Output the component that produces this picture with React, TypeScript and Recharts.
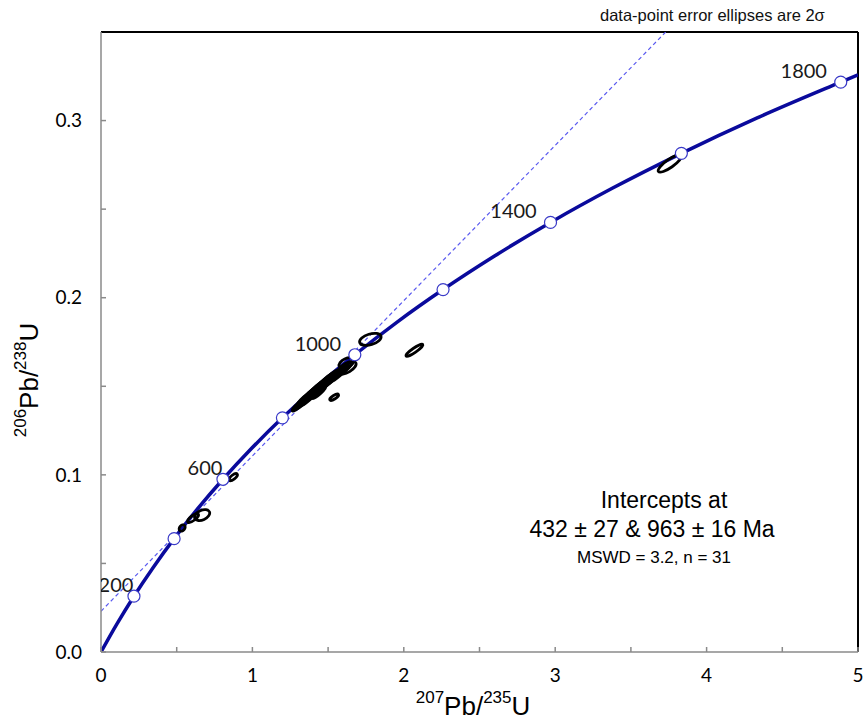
import React from 'react';
import { ComposedChart, Line, Scatter, XAxis, YAxis, ReferenceLine } from 'recharts';

const CHART_W = 866;
const CHART_H = 724;
const MARGIN = { top: 32, right: 8, bottom: 32, left: 41 };
const Y_AXIS_W = 60;
const X_AXIS_H = 40;
const X_MAX = 5;
const Y_MAX = 0.35;
const PLOT_W = CHART_W - MARGIN.left - Y_AXIS_W - MARGIN.right;
const PLOT_H = CHART_H - MARGIN.top - MARGIN.bottom - X_AXIS_H;
const PX_X = PLOT_W / X_MAX;
const PX_Y = PLOT_H / Y_MAX;

// concordia curve, 207Pb/235U vs 206Pb/238U
const concordiaCurve = [
  { x: 0, y: 0 },
  { x: 0.1035, y: 0.0156 },
  { x: 0.2177, y: 0.0315 },
  { x: 0.3437, y: 0.0476 },
  { x: 0.4828, y: 0.064 },
  { x: 0.6361, y: 0.0806 },
  { x: 0.8054, y: 0.0975 },
  { x: 0.9921, y: 0.1147 },
  { x: 1.1982, y: 0.1322 },
  { x: 1.4256, y: 0.1499 },
  { x: 1.6766, y: 0.1678 },
  { x: 1.9536, y: 0.1861 },
  { x: 2.2593, y: 0.2046 },
  { x: 2.5966, y: 0.2234 },
  { x: 2.969, y: 0.2425 },
  { x: 3.3799, y: 0.2619 },
  { x: 3.8334, y: 0.2815 },
  { x: 4.334, y: 0.3015 },
  { x: 4.886, y: 0.3217 },
  { x: 5.0, y: 0.3258 },
];

// age ticks on concordia (Ma)
const ageMarkers = [
  { age: 200, x: 0.2177, y: 0.0315 },
  { age: 400, x: 0.4828, y: 0.064 },
  { age: 600, x: 0.8054, y: 0.0975 },
  { age: 800, x: 1.1982, y: 0.1322 },
  { age: 1000, x: 1.6766, y: 0.1678 },
  { age: 1200, x: 2.2593, y: 0.2046 },
  { age: 1400, x: 2.969, y: 0.2425 },
  { age: 1600, x: 3.8334, y: 0.2815 },
  { age: 1800, x: 4.886, y: 0.3217 },
];
const labelledAges = [200, 600, 1000, 1400, 1800];

// discordia through 432 and 963 Ma
const discordia = [
  { x: 0, y: 0.023 },
  { x: 3.73, y: 0.35 },
];

// analyses: ratios with 2 sigma errors and error correlation
const analyses = [
  { x: 1.312, y: 0.1398, sx: 0.05, sy: 0.0038, rho: 0.92 },
  { x: 1.336, y: 0.1412, sx: 0.053, sy: 0.004, rho: 0.93 },
  { x: 1.346, y: 0.143, sx: 0.05, sy: 0.0038, rho: 0.92 },
  { x: 1.37, y: 0.1432, sx: 0.056, sy: 0.0042, rho: 0.93 },
  { x: 1.378, y: 0.1452, sx: 0.053, sy: 0.004, rho: 0.91 },
  { x: 1.4, y: 0.1456, sx: 0.05, sy: 0.0038, rho: 0.92 },
  { x: 1.405, y: 0.1474, sx: 0.056, sy: 0.0041, rho: 0.93 },
  { x: 1.428, y: 0.1474, sx: 0.053, sy: 0.004, rho: 0.92 },
  { x: 1.43, y: 0.1494, sx: 0.05, sy: 0.0038, rho: 0.92 },
  { x: 1.44, y: 0.1466, sx: 0.045, sy: 0.0035, rho: 0.9 },
  { x: 1.455, y: 0.1494, sx: 0.053, sy: 0.004, rho: 0.92 },
  { x: 1.458, y: 0.1512, sx: 0.056, sy: 0.0042, rho: 0.93 },
  { x: 1.48, y: 0.1511, sx: 0.05, sy: 0.0038, rho: 0.92 },
  { x: 1.485, y: 0.1532, sx: 0.053, sy: 0.004, rho: 0.92 },
  { x: 1.505, y: 0.1528, sx: 0.05, sy: 0.0038, rho: 0.92 },
  { x: 1.512, y: 0.1549, sx: 0.053, sy: 0.004, rho: 0.92 },
  { x: 1.532, y: 0.1546, sx: 0.048, sy: 0.0036, rho: 0.91 },
  { x: 1.545, y: 0.1566, sx: 0.05, sy: 0.0038, rho: 0.92 },
  { x: 1.57, y: 0.1569, sx: 0.053, sy: 0.004, rho: 0.92 },
  { x: 1.585, y: 0.159, sx: 0.05, sy: 0.0038, rho: 0.92 },
  { x: 1.607, y: 0.1596, sx: 0.05, sy: 0.0038, rho: 0.9 },
  { x: 1.627, y: 0.1605, sx: 0.058, sy: 0.0036, rho: 0.6 },
  { x: 1.622, y: 0.1632, sx: 0.05, sy: 0.003, rho: 0.45 },
  { x: 1.54, y: 0.1438, sx: 0.029, sy: 0.0018, rho: 0.75 },
  { x: 1.779, y: 0.1765, sx: 0.071, sy: 0.0034, rho: 0.4 },
  { x: 2.07, y: 0.1703, sx: 0.056, sy: 0.0034, rho: 0.9 },
  { x: 3.757, y: 0.2758, sx: 0.077, sy: 0.0049, rho: 0.83 },
  { x: 0.536, y: 0.07, sx: 0.02, sy: 0.0018, rho: 0.3 },
  { x: 0.608, y: 0.0756, sx: 0.036, sy: 0.0025, rho: 0.75 },
  { x: 0.668, y: 0.0773, sx: 0.05, sy: 0.0031, rho: 0.38 },
  { x: 0.873, y: 0.0987, sx: 0.028, sy: 0.002, rho: 0.7 },
];

const xTicks = [0, 0.5, 1, 1.5, 2, 2.5, 3, 3.5, 4, 4.5, 5];
const yTicks = [0, 0.05, 0.1, 0.15, 0.2, 0.25, 0.3];

const formatX = (v: number) => (Number.isInteger(v) ? String(v) : '');
const formatY = (v: number) =>
  Math.abs(v * 10 - Math.round(v * 10)) < 1e-6 ? v.toFixed(1) : '';

const ErrorEllipse = (props: any) => {
  const { cx, cy, payload } = props;
  const ax = payload.sx * PX_X;
  const ay = payload.sy * PX_Y;
  const sxx = ax * ax;
  const syy = ay * ay;
  const sxy = -payload.rho * ax * ay; // screen y runs downward
  const mid = (sxx + syy) / 2;
  const disc = Math.sqrt(((sxx - syy) / 2) ** 2 + sxy * sxy);
  const rx = Math.sqrt(mid + disc);
  const ry = Math.sqrt(Math.max(mid - disc, 0.5));
  const angle = (0.5 * Math.atan2(2 * sxy, sxx - syy) * 180) / Math.PI;
  return (
    <ellipse
      cx={cx}
      cy={cy}
      rx={rx}
      ry={ry}
      transform={`rotate(${angle} ${cx} ${cy})`}
      fill="none"
      stroke="#000"
      strokeWidth={2.8}
    />
  );
};

const AgeMarker = (props: any) => {
  const { cx, cy, payload } = props;
  const label = String(payload.age);
  const show = labelledAges.includes(payload.age);
  return (
    <g>
      <circle cx={cx} cy={cy} r={6} fill="#fff" stroke="#3a3ac8" strokeWidth={1.2} />
      {show && (
        <text
          x={cx + (label.length > 3 ? -37 : -18)}
          y={cy - 11}
          dy="0.35em"
          textAnchor="middle"
          fontFamily="Lato, 'Open Sans', sans-serif"
          fontSize={20}
          fill="#1a1a1a"
        >
          {label}
        </text>
      )}
    </g>
  );
};

const tickStyle = { fill: '#000', fontSize: 19, fontFamily: "Lato, 'Open Sans', sans-serif" };
const textFont = "'Liberation Sans', Arial, sans-serif";

const App = () => {
  return (
    <div style={{ position: 'absolute', left: 0, top: 0, width: CHART_W, height: CHART_H, background: '#fff' }}>
      <ComposedChart width={CHART_W} height={CHART_H} margin={MARGIN}>
        <XAxis
          type="number"
          dataKey="x"
          domain={[0, X_MAX]}
          ticks={xTicks}
          interval={0}
          tickFormatter={formatX}
          height={X_AXIS_H}
          tickSize={-5}
          tickMargin={22}
          axisLine={{ stroke: '#8a8a8a', strokeWidth: 1.5 }}
          tickLine={{ stroke: '#8a8a8a', strokeWidth: 1.5 }}
          tick={tickStyle}
          allowDataOverflow
        />
        <YAxis
          type="number"
          dataKey="y"
          domain={[0, Y_MAX]}
          ticks={yTicks}
          interval={0}
          tickFormatter={formatY}
          width={Y_AXIS_W}
          tickSize={-5}
          tickMargin={24}
          axisLine={{ stroke: '#8a8a8a', strokeWidth: 1.5 }}
          tickLine={{ stroke: '#8a8a8a', strokeWidth: 1.5 }}
          tick={tickStyle}
          allowDataOverflow
        />
        <ReferenceLine y={Y_MAX} stroke="#000" strokeWidth={2} ifOverflow="extendDomain" />
        <ReferenceLine x={X_MAX} stroke="#000" strokeWidth={2} ifOverflow="extendDomain" />
        <Line
          data={discordia}
          dataKey="y"
          type="linear"
          stroke="#5a5af0"
          strokeWidth={1.2}
          strokeDasharray="4 3"
          dot={false}
          activeDot={false}
          isAnimationActive={false}
        />
        <Line
          data={concordiaCurve}
          dataKey="y"
          type="monotone"
          stroke="#0a0a9c"
          strokeWidth={3.5}
          dot={false}
          activeDot={false}
          isAnimationActive={false}
        />
        <Scatter data={analyses} dataKey="y" shape={ErrorEllipse} isAnimationActive={false} />
        <Scatter data={ageMarkers} dataKey="y" shape={AgeMarker} isAnimationActive={false} />
      </ComposedChart>
      <svg
        width={CHART_W}
        height={CHART_H}
        style={{ position: 'absolute', left: 0, top: 0, pointerEvents: 'none' }}
      >
        <text x={600} y={21} fontFamily={textFont} fontSize={16.5} fill="#111">
          data-point error ellipses are 2σ
        </text>
        <text x={664} y={508} textAnchor="middle" fontFamily={textFont} fontSize={23} fill="#000">
          Intercepts at
        </text>
        <text x={652} y={537} textAnchor="middle" fontFamily={textFont} fontSize={23} fill="#000">
          432 ± 27 &amp; 963 ± 16 Ma
        </text>
        <text x={654} y={563} textAnchor="middle" fontFamily={textFont} fontSize={17} fill="#000">
          MSWD = 3.2, n = 31
        </text>
        <text x={473} y={715} textAnchor="middle" fontFamily={textFont} fontSize={26} fill="#000">
          <tspan fontSize={17} dy={-12}>207</tspan>
          <tspan dy={12}>Pb/</tspan>
          <tspan fontSize={17} dy={-12}>235</tspan>
          <tspan dy={12}>U</tspan>
        </text>
        <text
          x={0}
          y={0}
          textAnchor="middle"
          fontFamily={textFont}
          fontSize={26}
          fill="#000"
          transform="translate(38 380) rotate(-90)"
        >
          <tspan fontSize={17} dy={-12}>206</tspan>
          <tspan dy={12}>Pb/</tspan>
          <tspan fontSize={17} dy={-12}>238</tspan>
          <tspan dy={12}>U</tspan>
        </text>
      </svg>
    </div>
  );
};

export default App;
